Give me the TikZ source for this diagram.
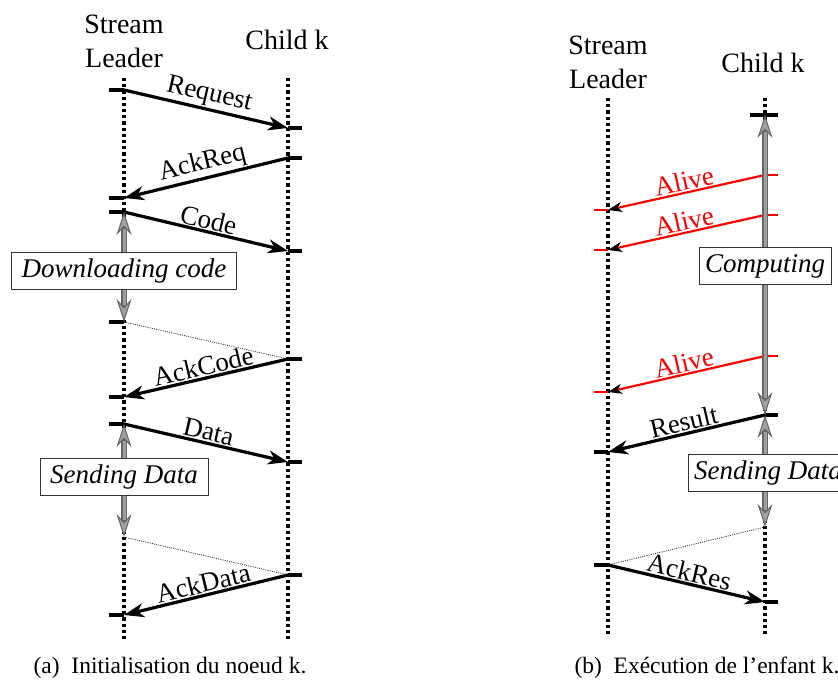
\documentclass[tikz,border=0pt]{standalone}
\usepackage{fontspec}
\setmainfont{Liberation Serif}
\usetikzlibrary{arrows.meta}
\begin{document}
\begin{tikzpicture}[x=1pt,y=-1pt,
 lifeline/.style={line width=3.2pt, dash pattern=on 3.2pt off 3pt},
 tickmark/.style={line width=3.4pt},
 msg/.style={line width=3.2pt, -{Stealth[length=20pt,width=14pt,inset=6pt]}},
 alivemsg/.style={red, line width=2.2pt, -{Stealth[length=14pt,width=10pt,inset=4pt,color=black]}},
 alivetick/.style={red, line width=2.4pt},
 hint/.style={black!75, line width=0.9pt, dash pattern=on 1pt off 1.2pt},
 actout/.style={line width=5.5pt, black!60,
   {Stealth[length=23pt,width=15pt,inset=8pt,fill=gray!75,line width=1pt]}-{Stealth[length=23pt,width=15pt,inset=8pt,fill=gray!75,line width=1pt]}},
 actin/.style={line width=3pt, gray!75, shorten <=17pt, shorten >=17pt},
 msglabel/.style={font=\fontsize{27}{30}\selectfont, sloped, above, inner sep=1pt},
 actbox/.style={draw=black!80, line width=1pt, fill=white, font=\fontsize{27}{30}\selectfont\itshape, inner xsep=5pt, inner ysep=2pt, minimum height=37pt},
 header/.style={font=\fontsize{28}{34}\selectfont, align=center},
 captionstyle/.style={font=\fontsize{23.5}{28}\selectfont}
]
\useasboundingbox (0,0) rectangle (838,682);

% ---------------- panel (a) ----------------
\node[header] (hL) at (124,41) {Stream\\Leader};
\node[header] (hC) at (287,40) {Child k};

\coordinate (LTop) at (124,78);  \coordinate (LBot) at (124,640);
\coordinate (CTop) at (288,78);  \coordinate (CBot) at (288,640);
\draw[lifeline] (LTop) -- (LBot);
\draw[lifeline] (CTop) -- (CBot);

\coordinate (l1) at (124,90);  \coordinate (c1) at (288,128);
\coordinate (c2) at (288,158); \coordinate (l2) at (124,198);
\coordinate (l3) at (124,212); \coordinate (c3) at (288,251);
\coordinate (l4) at (124,322); \coordinate (c4) at (288,359);
\coordinate (l5) at (124,397);
\coordinate (l6) at (124,424); \coordinate (c6) at (288,462);
\coordinate (l7) at (124,537); \coordinate (c7) at (288,575);
\coordinate (l8) at (124,615);

\foreach \p in {l1,l2,l3,l4,l5,l6,l8} \draw[tickmark] (\p) -- ++(-15,0);
\foreach \p in {c1,c2,c3,c4,c6,c7} \draw[tickmark] (\p) -- ++(14,0);

\draw[msg] (l1) -- node[msglabel] {Request} (c1);
\draw[msg] (c2) -- node[msglabel] {AckReq} (l2);
\draw[msg] (l3) -- node[msglabel] {Code} (c3);
\draw[hint] (l4) -- (c4);
\draw[msg] (c4) -- node[msglabel] {AckCode} (l5);
\draw[msg] (l6) -- node[msglabel] {Data} (c6);
\draw[hint] (l7) -- (c7);
\draw[msg] (c7) -- node[msglabel] {AckData} (l8);

\draw[actout] (l3) -- (l4);  \draw[actin] (l3) -- (l4);
\draw[actout] (l6) -- (l7);  \draw[actin] (l6) -- (l7);
\node[actbox, minimum width=225pt] (bDown) at (124,271) {Downloading code};
\node[actbox, minimum width=168pt] (bSendA) at (124,477) {Sending Data};

\node[captionstyle] (capA) at (170,668) {(a)\hspace{0.5em}Initialisation du noeud k.};

% ---------------- panel (b) ----------------
\node[header] (hL2) at (608,62) {Stream\\Leader};
\node[header] (hC2) at (763,63) {Child k};

\coordinate (L2Top) at (608,98);  \coordinate (L2Bot) at (608,637);
\coordinate (C2Top) at (765,98);  \coordinate (C2Bot) at (765,637);
\draw[lifeline] (L2Top) -- (L2Bot);
\draw[lifeline] (C2Top) -- (C2Bot);

\coordinate (r0) at (765,115);
\coordinate (a1c) at (765,175); \coordinate (a1l) at (608,210);
\coordinate (a2c) at (765,215); \coordinate (a2l) at (608,250);
\coordinate (a3c) at (765,356); \coordinate (a3l) at (608,392);
\coordinate (rc) at (765,415);  \coordinate (rl) at (608,452);
\coordinate (rs) at (765,527);  \coordinate (ql) at (608,565);
\coordinate (qc) at (765,602);

\draw[tickmark] ([xshift=-15pt]r0) -- ([xshift=13pt]r0);
\foreach \p in {a1c,a2c,a3c} \draw[alivetick] (\p) -- ++(13,0);
\foreach \p in {a1l,a2l,a3l} \draw[alivetick] (\p) -- ++(-14,0);
\draw[tickmark] (rc) -- ++(13,0);
\draw[tickmark] (rl) -- ++(-14,0);
\draw[tickmark] (ql) -- ++(-14,0);
\draw[tickmark] (qc) -- ++(13,0);

\draw[alivemsg] (a1c) -- node[msglabel, red] {Alive} (a1l);
\draw[alivemsg] (a2c) -- node[msglabel, red] {Alive} (a2l);
\draw[alivemsg] (a3c) -- node[msglabel, red] {Alive} (a3l);
\draw[msg] (rc) -- node[msglabel] {Result} (rl);
\draw[hint] (rs) -- (ql);
\draw[msg] (ql) -- node[msglabel] {AckRes} (qc);

\draw[actout] (r0) -- (rc);  \draw[actin] (r0) -- (rc);
\draw[actout] (rc) -- (rs);  \draw[actin] (rc) -- (rs);
\node[actbox, minimum width=132pt] (bComp) at (765,266) {Computing};
\node[actbox, minimum width=160pt] (bSendB) at (768,473) {Sending Data};

\node[captionstyle] (capB) at (707,668) {(b)\hspace{0.5em}Exécution de l’enfant k.};
\end{tikzpicture}
\end{document}
